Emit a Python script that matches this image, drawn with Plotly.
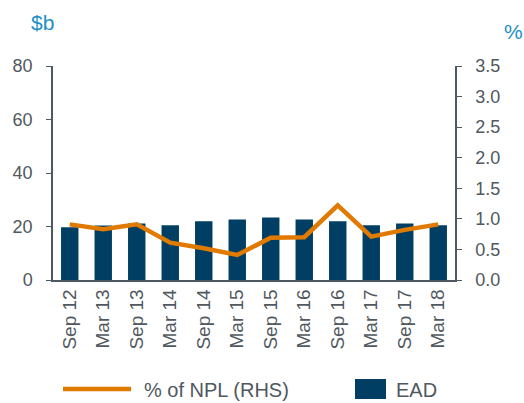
import plotly.graph_objects as go

categories = ["Sep 12", "Mar 13", "Sep 13", "Mar 14", "Sep 14", "Mar 15",
              "Sep 15", "Mar 16", "Sep 16", "Mar 17", "Sep 17", "Mar 18"]
ead = [19.7, 20.4, 21.1, 20.5, 22.0, 22.6, 23.4, 22.6, 22.0, 20.5, 21.1, 20.5]
npl_pct = [0.91, 0.83, 0.91, 0.61, 0.52, 0.41, 0.69, 0.70, 1.22, 0.71, 0.82, 0.91]

left_ticks = [0, 20, 40, 60, 80]
right_ticks = [0.0, 0.5, 1.0, 1.5, 2.0, 2.5, 3.0, 3.5]

LINE_COLOR = "#E07A00"
BAR_COLOR = "#003F63"
axis_color = "#4d5863"
txt_color = "#505860"
FONT = "Liberation Sans, Arial, sans-serif"
tick_font = dict(family=FONT, size=18, color=txt_color)
xtick_font = dict(family=FONT, size=19, color=txt_color)

fig = go.Figure()
fig.add_trace(go.Bar(x=categories, y=ead, name="EAD", marker_color=BAR_COLOR,
                     marker_line_width=0, width=0.52))
fig.add_trace(go.Scatter(x=categories, y=npl_pct, name="% of NPL (RHS)", yaxis="y2",
                         mode="lines", line=dict(color=LINE_COLOR, width=4.5)))

fig.update_layout(
    width=524, height=403,
    margin=dict(l=53, r=69, t=66, b=123),
    plot_bgcolor="white", paper_bgcolor="white",
    font=tick_font,
    showlegend=False,
    xaxis=dict(tickangle=-90, showline=True, linecolor=axis_color, linewidth=1.5,
               ticks="", showgrid=False, tickfont=xtick_font, automargin=False),
    yaxis=dict(range=[0, 80], tickvals=left_ticks, showline=True, linecolor=axis_color,
               linewidth=1.5, ticks="outside", ticklen=5, tickcolor=axis_color,
               showgrid=False, zeroline=False, tickfont=tick_font, ticklabelstandoff=10,
               automargin=False),
    yaxis2=dict(range=[0, 3.5], tickvals=right_ticks, tickformat=".1f", overlaying="y",
                side="right", showline=True, linecolor=axis_color, linewidth=1.5,
                ticks="outside", ticklen=5, tickcolor=axis_color, showgrid=False,
                zeroline=False, tickfont=tick_font, ticklabelstandoff=10,
                automargin=False),
    shapes=[
        # legend symbols (pixel offsets from the plot's bottom-left corner)
        dict(type="line", xref="paper", yref="paper", xsizemode="pixel", ysizemode="pixel",
             xanchor=0, yanchor=0, x0=10, x1=78, y0=-109, y1=-109,
             line=dict(color=LINE_COLOR, width=4.5)),
        dict(type="rect", xref="paper", yref="paper", xsizemode="pixel", ysizemode="pixel",
             xanchor=0, yanchor=0, x0=302, x1=333, y0=-99, y1=-119,
             line=dict(width=0), fillcolor=BAR_COLOR),
    ],
    annotations=[
        dict(text="$b", xref="paper", yref="paper", x=0, y=1, xshift=-24, yshift=44,
             xanchor="left", yanchor="middle", showarrow=False,
             font=dict(family=FONT, size=21, color="#1E8FC6")),
        dict(text="%", xref="paper", yref="paper", x=1, y=1, xshift=47, yshift=35,
             xanchor="left", yanchor="middle", showarrow=False,
             font=dict(family=FONT, size=21, color="#1E8FC6")),
        dict(text="% of NPL (RHS)", xref="paper", yref="paper", x=0, y=0, xshift=89,
             yshift=-110, xanchor="left", yanchor="middle", showarrow=False,
             font=dict(family=FONT, size=20, color=txt_color)),
        dict(text="EAD", xref="paper", yref="paper", x=0, y=0, xshift=341,
             yshift=-110, xanchor="left", yanchor="middle", showarrow=False,
             font=dict(family=FONT, size=20, color=txt_color)),
    ],
)

fig.write_html("out.html", config={"displayModeBar": False},
               post_script="document.body.style.margin='0';")
